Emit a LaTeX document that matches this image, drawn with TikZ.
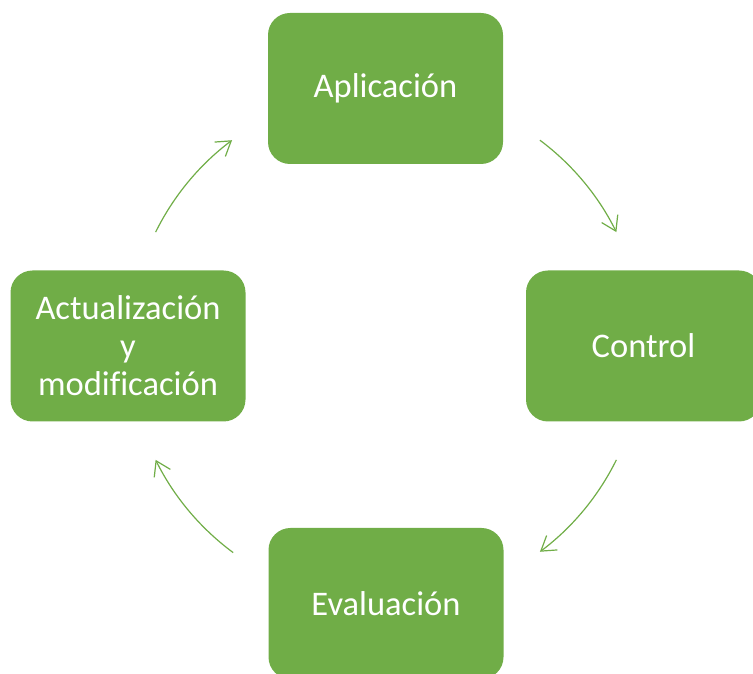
\documentclass[tikz,border=0pt]{standalone}
\usepackage{fontspec}
\setmainfont{Carlito}[Ligatures=NoCommon]
\usetikzlibrary{arrows.meta}
\definecolor{offgreen}{HTML}{70AD47}
\begin{document}
\begin{tikzpicture}[x=1pt,y=1pt,
  box/.style={fill=offgreen, draw=none, rounded corners=22pt, minimum width=235pt, minimum height=151pt, inner sep=0pt, text=white, font=\fontsize{34.5}{38}\selectfont, align=center},
  cyc/.style={draw=offgreen, line width=1.2pt, -{Straight Barb[length=14pt,width=18pt,line width=1.2pt]}}]
\useasboundingbox (0,0) rectangle (753,674);
\node[box] (apl) at (385.5,585.5) {Aplicación};
\node[box] (con) at (643.5,328) {Control};
\node[box] (eva) at (386,70.5) {Evaluación};
\node[box] (act) at (128,328) {Actualización\\y\\modificación};
\coordinate (c) at (386,328);
\draw[cyc] ([shift={(53.2:257)}]c) arc (53.2:26.3:257);
\draw[cyc] ([shift={(-26.3:257)}]c) arc (-26.3:-53.2:257);
\draw[cyc] ([shift={(233.5:257)}]c) arc (233.5:206.3:257);
\draw[cyc] ([shift={(153.7:257)}]c) arc (153.7:126.8:257);
\end{tikzpicture}
\end{document}
